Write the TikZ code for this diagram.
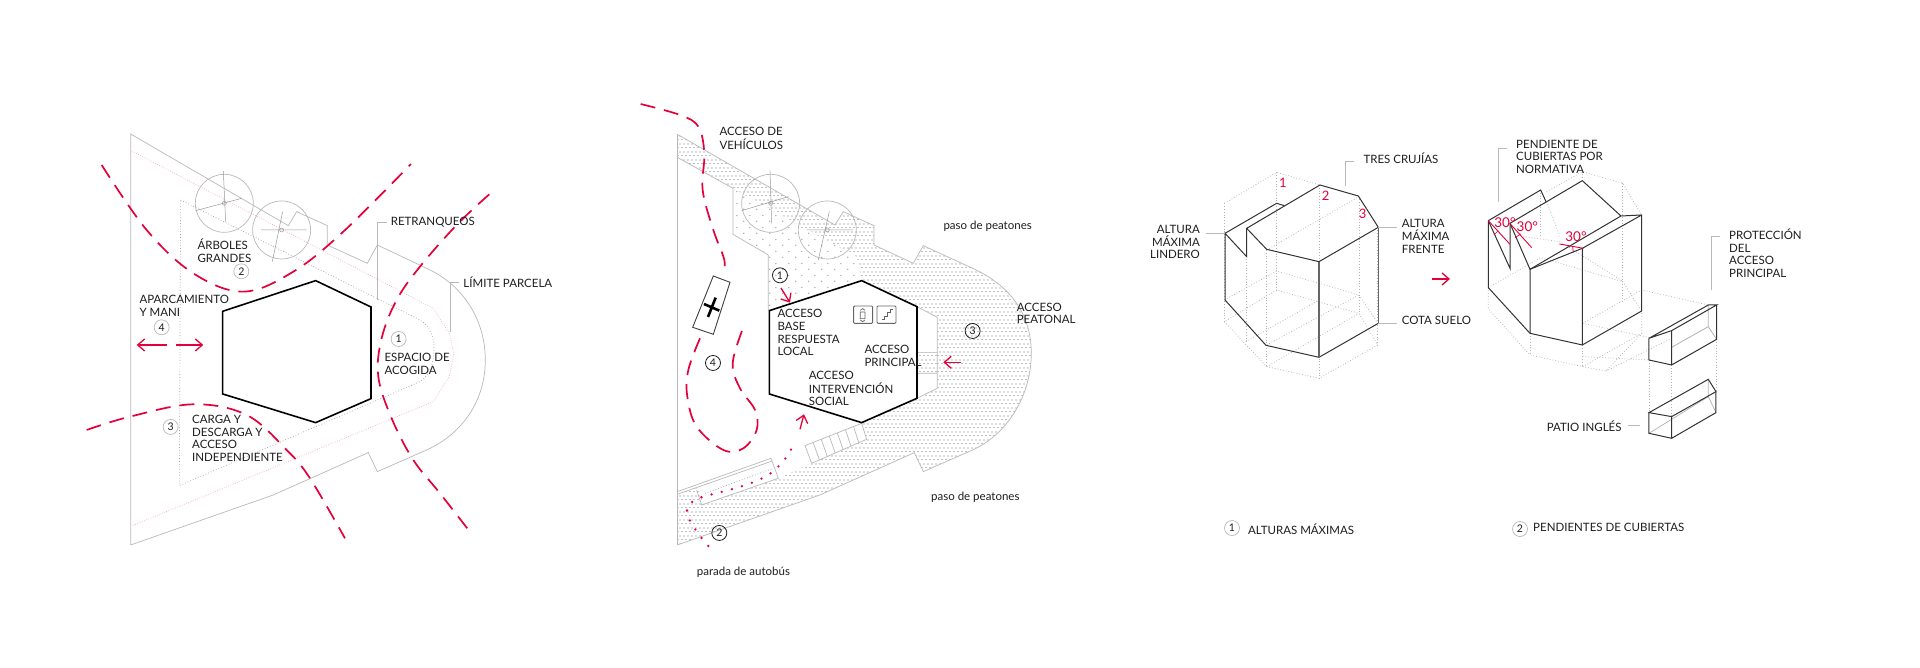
\documentclass[tikz,border=0pt]{standalone}
\usepackage{fontspec}
\setmainfont{Lato}
\usetikzlibrary{arrows.meta}
\usetikzlibrary{calc}
\usetikzlibrary{patterns}

\definecolor{roadred}{HTML}{E4003A}
\definecolor{ink}{HTML}{1E1E1E}
\definecolor{sitegray}{HTML}{B9B9B9}
\definecolor{pinkdot}{HTML}{F0B4C4}

\pgfdeclarepatternformonly{finehatch}{\pgfqpoint{0pt}{0pt}}{\pgfqpoint{4.4pt}{8pt}}{\pgfqpoint{4.4pt}{8pt}}{
    \pgfpathrectangle{\pgfqpoint{0pt}{0pt}}{\pgfqpoint{2.2pt}{.8pt}}
    \pgfpathrectangle{\pgfqpoint{2.2pt}{4pt}}{\pgfqpoint{2.2pt}{.8pt}}
    \pgfusepath{fill}
}
\pgfdeclarepatternformonly{sparsedots}{\pgfqpoint{0pt}{0pt}}{\pgfqpoint{13pt}{12pt}}{\pgfqpoint{13pt}{12pt}}{
    \pgfpathcircle{\pgfqpoint{3pt}{3pt}}{.75pt}
    \pgfpathcircle{\pgfqpoint{9.5pt}{9pt}}{.75pt}
    \pgfusepath{fill}
}

\tikzset{
    panelA/.style={shift={(80,90)},x=.3333pt,y=-.3333pt},
    panelB/.style={shift={(600,80)},x=.3333pt,y=-.3333pt},
    panelC/.style={shift={(1120,130)},x=.3333pt,y=-.3333pt},
    panelD/.style={shift={(1420,120)},x=.3333pt,y=-.3333pt},
    lbl/.style={inner sep=0pt,anchor=west,align=left,text=ink,font=\fontsize{11.5pt}{12.6pt}\selectfont},
    lblright/.style={lbl,anchor=east,align=right},
    redlbl/.style={inner sep=0pt,text=roadred,font=\fontsize{13pt}{14pt}\selectfont},
    numgray/.style={circle,draw=sitegray,line width=.7pt,inner sep=0pt,minimum size=15pt,text=ink,font=\fontsize{10.5pt}{11pt}\selectfont},
    numblack/.style={numgray,draw=ink,line width=.8pt},
    sitebound/.style={draw=sitegray,line width=.7pt},
    setbackpink/.style={draw=pinkdot,line width=.7pt,dash pattern=on .8pt off 1.6pt},
    setbackgray/.style={draw=gray!70,line width=.7pt,dash pattern=on .8pt off 2pt},
    leaderline/.style={draw=sitegray,line width=.8pt,shorten >=4pt},
    solidline/.style={draw=black!80,line width=1pt,line join=miter},
    ghostline/.style={draw=gray!60,line width=.7pt,dash pattern=on .8pt off 2pt},
    hexwall/.style={draw=black,line width=1.6pt,line join=miter},
    redroad/.style={draw=roadred,line width=1.7pt,dash pattern=on 15pt off 9pt},
    redarrow/.style={draw=roadred,line width=1.3pt,-{Straight Barb[length=7pt,width=12pt]}},
    treeline/.style={draw=gray!80,line width=.5pt},
}

\begin{document}
\begin{tikzpicture}[x=1pt,y=-1pt]
    \useasboundingbox (0,0) rectangle (1920,668);
    \fill[white] (0,0) rectangle (1920,668);

    % first plan
    \begin{scope}[panelA]
        \draw[sitebound] (152,132) -- (625,407) -- (650,365) -- (742,407) -- (742,465) -- (862,520) -- (892,465) -- (1040,535)
            .. controls (1150,585) and (1216,690) .. (1216,810) .. controls (1216,930) and (1150,1030) .. (1040,1080)
            -- (892,1145) -- (865,1088) -- (580,1215) -- (152,1365) -- cycle;
        \draw[setbackpink] (155,183) -- (1060,655) -- (1108,730) -- (1122,790) -- (1108,860) -- (1060,935) -- (155,1308);
        \draw[setbackgray] (302,330) -- (1020,690) .. controls (1050,710) and (1062,740) .. (1062,775)
            .. controls (1062,820) and (1050,855) .. (1020,875) -- (298,1187) -- cycle;
        \foreach \cx/\cy in {433/340,605/420} {
            \draw[sitebound] (\cx,\cy) circle [radius=87];
            \draw[treeline] (\cx,\cy) circle [radius=6];
        }
        \draw[treeline] (430,243) -- (437,395) (347,362) -- (485,325);
        \draw[treeline] (608,365) -- (577,515) (543,420) -- (680,420);
        \draw[hexwall] (428,664) -- (707,572) -- (873,651) -- (873,926) -- (707,998) -- (428,912) -- cycle;
        \draw[redroad] plot[smooth,tension=.6] coordinates {(65,225) (200,420) (340,550) (490,605) (640,545) (790,425) (993,222)};
        \draw[redroad] plot[smooth,tension=.6] coordinates {(1228,313) (1130,405) (1020,530) (950,630) (905,745) (895,860) (935,985) (1000,1110) (1080,1210) (1175,1332)};
        \draw[redroad] plot[smooth,tension=.6] coordinates {(20,1020) (150,980) (340,943) (500,975) (620,1080) (690,1165) (795,1345)};
        \draw[redarrow,{Straight Barb[length=7pt,width=12pt]}-{Straight Barb[length=7pt,width=12pt]},dash pattern=on 29pt off 9pt] (170,765) -- (370,765);
        \node[lbl] (arboles) at (352,482) {ÁRBOLES\\GRANDES};
        \node[lbl] (retranq) at (932,397) {RETRANQUEOS};
        \node[lbl] (limite) at (1150,577) {LÍMITE PARCELA};
        \node[lbl] (aparca) at (178,648) {APARCAMIENTO\\Y MANI};
        \node[lbl] (espacio) at (913,822) {ESPACIO DE\\ACOGIDA};
        \node[lbl] (carga) at (336,1045) {CARGA Y\\DESCARGA Y\\ACCESO\\INDEPENDIENTE};
        \node[numgray] (a2) at (484,544) {2};
        \node[numgray] (a4) at (245,712) {4};
        \node[numgray] (a1) at (956,747) {1};
        \node[numgray] (a3) at (272,1011) {3};
        \coordinate (retrfoot) at (892,630);
        \coordinate (limfoot) at (1110,725);
        \draw[leaderline] (retrfoot) |- (retranq.west);
        \draw[leaderline] (limfoot) |- (limite.west);
    \end{scope}

    % second plan
    \begin{scope}[panelB]
        \fill[pattern=finehatch,pattern color=gray!75] (232,163) -- (705,435) -- (730,395) -- (822,437) -- (822,495) -- (940,550) -- (970,497) -- (1118,565)
            .. controls (1228,615) and (1294,700) .. (1294,820) .. controls (1294,940) and (1228,1060) .. (1118,1110)
            -- (970,1175) -- (943,1118) -- (660,1245) -- (232,1395) -- (232,1240) -- (292,1222) -- (310,1272) -- (535,1195) -- (635,1150) -- (800,1078) -- (785,1028)
            -- (951,955) -- (1012,925) -- (1012,712) -- (951,680) -- (785,602) -- (771,531) -- (399,325) -- (232,232) -- cycle;
        \fill[pattern=finehatch,pattern color=gray!75] (951,818) rectangle (1012,880);
        \fill[pattern=sparsedots,pattern color=gray!85] (399,325) -- (399,463) -- (505,525) -- (505,692) -- (785,602) -- (771,531) -- cycle;
        \draw[sitebound] (232,163) -- (705,435) -- (730,395) -- (822,437) -- (822,495) -- (940,550) -- (970,497) -- (1118,565)
            .. controls (1228,615) and (1294,700) .. (1294,820) .. controls (1294,940) and (1228,1060) .. (1118,1110)
            -- (970,1175) -- (943,1118) -- (660,1245) -- (232,1395);
        \draw[sitebound] (232,232) -- (399,325) -- (399,463) -- (505,525) -- (505,692);
        \draw[sitebound,line width=1.1pt] (232,163) -- (232,1395);
        \draw[sitebound] (951,680) -- (1012,712) -- (1012,925) -- (951,955) (951,818) -- (1012,818) (951,880) -- (1012,880);
        % ramp and stair
        \draw[sitebound] (232,1235) -- (513,1135) -- (535,1195) -- (305,1275) -- (290,1230);
        \draw[sitebound] (232,1243) -- (517,1143);
        \draw[setbackgray] (315,1240) -- (520,1165);
        \coordinate (stairA) at (615,1097);
        \coordinate (stairB) at (785,1030);
        \coordinate (stairC) at (635,1150);
        \coordinate (stairD) at (800,1078);
        \draw[sitebound] (stairA) -- (stairB) -- (stairD) -- (stairC) -- cycle;
        \foreach \t in {1,...,6} {
            \draw[sitebound] ($(stairA)!\t/7!(stairB)$) -- ($(stairC)!\t/7!(stairD)$);
        }
        \foreach \cx/\cy in {512/370,682/450} {
            \draw[sitebound] (\cx,\cy) circle [radius=87];
            \draw[treeline] (\cx,\cy) circle [radius=6];
        }
        \draw[treeline] (510,272) -- (515,430) (425,392) -- (565,350);
        \draw[treeline] (688,395) -- (655,540) (620,450) -- (760,450);
        \draw[hexwall] (508,692) -- (785,602) -- (951,680) -- (951,955) -- (785,1028) -- (508,942) -- cycle;
        % ambulance
        \draw[draw=black!75,line width=.9pt,fill=white] (340,588) -- (390,607) -- (340,763) -- (278,742) -- cycle;
        \draw[black,line width=2.6pt] (347,653) -- (324,711) (312,672) -- (358,692);
        % icons
        \draw[draw=gray!80!black,line width=.9pt,rounded corners=1pt] (761,678) rectangle (818,730);
        \draw[draw=gray!80!black,line width=.9pt,rounded corners=1pt] (831,678) rectangle (888,730);
        \draw[draw=gray!80!black,line width=.7pt] (781,696) rectangle (795,716) (781,691) -- (788,686) -- (795,691) (781,720) -- (788,725) -- (795,720);
        \draw[draw=gray!80!black,line width=.9pt] (845,718) -- (853,718) -- (853,708) -- (862,708) -- (862,698) -- (871,698) -- (871,688) -- (880,688);
        % routes
        \draw[redroad] plot[smooth,tension=.6] coordinates {(122,72) (240,105) (295,140) (313,220) (308,330) (340,450) (373,540) (368,580)};
        \draw[redroad] plot[smooth,tension=.6] coordinates {(300,775) (265,870) (262,950) (290,1040) (370,1110) (430,1105) (470,1050) (465,990) (420,925) (398,850) (430,742)};
        \draw[draw=roadred,line width=2.6pt,line cap=round,dash pattern=on 0pt off 10.5pt] plot[smooth,tension=.5] coordinates {(325,1398) (300,1368) (282,1342) (265,1312) (262,1282) (285,1260) (317,1248) (380,1232) (443,1213) (505,1185) (553,1140) (588,1082)};
        \node[lbl] (vehic) at (358,175) {ACCESO DE\\[1.3pt]VEHÍCULOS};
        \node[lbl] (pasoup) at (1030,440) {paso de peatones};
        \node[lbl] (pasodn) at (993,1252) {paso de peatones};
        \node[lbl] (peatonal) at (1250,700) {ACCESO\\PEATONAL};
        \node[lbl] (base) at (532,758) {ACCESO\\BASE\\RESPUESTA\\LOCAL};
        \node[lbl] (princ) at (793,827) {ACCESO\\PRINCIPAL};
        \node[lbl] (interv) at (626,925) {ACCESO\\[1.6pt]INTERVENCIÓN\\SOCIAL};
        \node[lbl] (parada) at (290,1477) {parada de autobús};
        \node[numblack] (b1) at (540,586) {1};
        \node[numblack] (b2) at (358,1359) {2};
        \node[numblack] (b3) at (1118,753) {3};
        \node[numblack] (b4) at (339,849) {4};
        \coordinate (entryB) at (570,668);
        \coordinate (entryM) at (1030,847);
        \coordinate (entryS) at (612,1003);
        \draw[redarrow] ($(b1)+(3,38)$) -- (entryB);
        \draw[redarrow] (1083,847) -- (entryM);
        \draw[redarrow] (600,1048) -- (entryS);
    \end{scope}

    % first volume
    \begin{scope}[panelC]
        \draw[ghostline] (313,220) -- (470,127) -- (600,165) (440,360) -- (717,200);
        \foreach \gx/\gy/\hy in {313/220/575,378/295/635,440/360/710,470/127/480,598/165/745,717/200/550,773/292/645} {
            \draw[ghostline] (\gx,\gy) -- (\gx,\hy);
        }
        \draw[ghostline] (313,575) -- (440,710) -- (598,745) -- (773,645) -- (717,550) -- (470,480) -- cycle;
        \draw[ghostline] (313,510) -- (470,423) -- (717,495) -- (773,580);
        \draw[ghostline] (378,635) -- (598,510) (440,645) -- (717,495) (440,710) -- (717,550);
        \draw[solidline] (315,310) -- (470,220) -- (493,227);
        \draw[solidline] (380,295) -- (600,165) -- (715,198) -- (775,292) -- (597,395) -- (440,358) -- cycle;
        \draw[solidline] (380,295) -- (380,380) -- (315,310) -- (315,510) -- (438,646) -- (597,682) -- (775,580);
        \draw[draw=gray!80!black,line width=1.5pt] (597,395) -- (597,682) (775,292) -- (775,580);
        \node[redlbl] (num1) at (489,160) {1};
        \node[redlbl] (num2) at (617,198) {2};
        \node[redlbl] (num3) at (728,253) {3};
        \node[lbl] (crujias) at (730,86) {TRES CRUJÍAS};
        \node[lblright] (lindero) at (240,337) {ALTURA\\MÁXIMA\\LINDERO};
        \node[lbl] (frente) at (845,319) {ALTURA\\MÁXIMA\\FRENTE};
        \node[lbl] (cota) at (845,572) {COTA SUELO};
        \coordinate (crujfoot) at (676,168);
        \coordinate (crujtop) at (703,95);
        \coordinate (lindA) at (258,309);
        \coordinate (lindB) at (315,309);
        \coordinate (frentA) at (775,293);
        \coordinate (frentB) at (830,293);
        \coordinate (cotaA) at (775,581);
        \coordinate (cotaB) at (830,581);
        \draw[leaderline,shorten >=0pt] (crujfoot) |- (crujtop);
        \draw[leaderline,shorten >=0pt] (lindA) -- (lindB);
        \draw[leaderline,shorten >=0pt] (frentA) -- (frentB);
        \draw[leaderline,shorten >=0pt] (cotaA) -- (cotaB);
        \draw[redarrow] (937,447) -- (990,447);
    \end{scope}

    % second volume
    \begin{scope}[panelD]
        \draw[ghostline] (380,215) -- (487,155) -- (608,190) -- (665,285);
        \draw[ghostline] (608,190) -- (608,545) (487,155) -- (487,183) (362,210) -- (362,350);
        \draw[ghostline] (205,503) -- (205,567) -- (330,705) -- (488,740) -- (558,753) -- (665,640) -- (665,573);
        \draw[ghostline] (330,640) -- (330,705) (488,675) -- (488,740);
        \draw[ghostline] (205,503) -- (362,413) -- (608,485) -- (665,573);
        \draw[ghostline] (380,245) -- (420,350) (310,350) -- (420,365) -- (610,485);
        \draw[ghostline] (488,610) -- (665,510) -- (865,555) (488,610) -- (690,653) (488,710) -- (690,720) (488,740) -- (665,640);
        \draw[ghostline] (558,753) -- (755,655);
        \draw[ghostline] (687,720) -- (687,878) (755,735) -- (755,890) (890,658) -- (890,815);
        \draw[solidline] (205,302) -- (362,210) -- (378,245);
        \draw[solidline] (205,302) -- (205,503) -- (330,640) -- (487,675) -- (665,573) -- (665,285) -- (603,288) -- (487,182) -- (270,310) -- (330,448) -- (487,385) -- (665,285);
        \draw[solidline] (330,448) -- (603,288) (330,448) -- (330,640) (487,385) -- (487,675);
        \draw[solidline] (205,302) -- (270,445) -- (270,310);
        % slopes
        \draw[draw=roadred,line width=.9pt] (205,302) -- (270,373) (272,313) -- (335,383) (418,372) -- (490,385);
        \draw[draw=roadred,line width=.7pt] (222,345) -- (235,332) (285,353) -- (302,342) (458,380) -- (460,397);
        \node[redlbl,font=\fontsize{13.5pt}{14pt}\selectfont] (deg1) at (255,308) {30°};
        \node[redlbl,font=\fontsize{13.5pt}{14pt}\selectfont] (deg2) at (322,320) {30°};
        \node[redlbl,font=\fontsize{13.5pt}{14pt}\selectfont] (deg3) at (468,350) {30°};
        % protection and patio boxes
        \draw[draw=gray!60,line width=.8pt] (865,555) -- (865,620) -- (890,658) (865,620) -- (755,682);
        \draw[solidline] (687,655) -- (865,555) -- (890,555) -- (755,632) -- (687,655);
        \draw[solidline] (687,655) -- (687,720) -- (755,735) -- (890,658) -- (890,555) (755,632) -- (755,735);
        \draw[draw=gray!60,line width=.7pt] (687,940) -- (865,830) -- (888,878) (865,830) -- (865,778);
        \draw[solidline] (687,878) -- (865,778) -- (888,815) -- (755,890) -- cycle;
        \draw[solidline] (687,878) -- (687,940) -- (755,955) -- (888,878) -- (888,815) (755,890) -- (755,955);
        \node[lbl] (normativa) at (288,110) {PENDIENTE DE\\CUBIERTAS POR\\NORMATIVA};
        \node[lbl] (protec) at (927,400) {PROTECCIÓN\\DEL\\ACCESO\\PRINCIPAL};
        \node[lbl] (patio) at (380,920) {PATIO INGLÉS};
        \coordinate (normfoot) at (235,245);
        \coordinate (normtop) at (262,85);
        \coordinate (protfoot) at (875,510);
        \coordinate (prottop) at (900,350);
        \coordinate (patioA) at (625,917);
        \coordinate (patioB) at (660,917);
        \draw[leaderline,shorten >=0pt] (normfoot) |- (normtop);
        \draw[leaderline,shorten >=0pt] (protfoot) |- (prottop);
        \draw[leaderline,shorten >=0pt] (patioA) -- (patioB);
    \end{scope}

    % legend
    \node[numgray] (leg1) at (1232,528) {1};
    \node[lbl,anchor=west] (alturas) at (1248,529) {ALTURAS MÁXIMAS};
    \node[numgray] (leg2) at (1520,529) {2};
    \node[lbl,anchor=west] (pendientes) at (1533,527) {PENDIENTES DE CUBIERTAS};
\end{tikzpicture}
\end{document}
